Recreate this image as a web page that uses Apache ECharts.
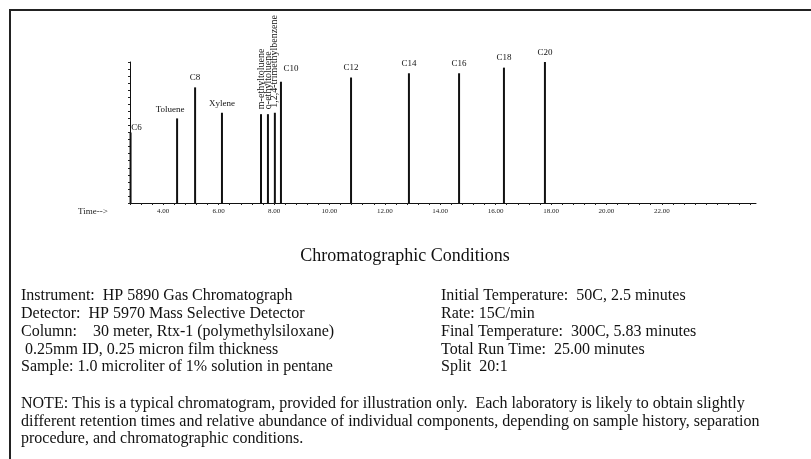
<!DOCTYPE html>
<html>
<head>
<meta charset="utf-8">
<script src="https://cdn.jsdelivr.net/npm/echarts@6/dist/echarts.min.js"></script>
<style>
html,body{margin:0;padding:0;background:#fff;}
#chart{width:811px;height:459px;}
</style>
</head>
<body>
<div id="chart"></div>
<script>
// Peak data (retention time in minutes, relative abundance)
const peakNames = ['C6','Toluene','C8','Xylene','m-ethyltoluene','o-ethyltoluene','1,2,4-trimethylbenzene','C10','C12','C14','C16','C18','C20'];
const peakTimes = [2.82, 4.50, 5.15, 6.12, 7.53, 7.78, 8.03, 8.25, 10.78, 12.87, 14.68, 16.30, 17.78];
const peakHeights = [50, 60, 82, 64, 63, 63, 64, 86, 89, 92, 92, 96, 100];
const tickLabels = [4, 6, 8, 10, 12, 14, 16, 18, 20, 22];
const heading = 'Chromatographic Conditions';
const leftLines = [
  'Instrument:  HP 5890 Gas Chromatograph',
  'Detector:  HP 5970 Mass Selective Detector',
  'Column:    30 meter, Rtx-1 (polymethylsiloxane)',
  ' 0.25mm ID, 0.25 micron film thickness',
  'Sample: 1.0 microliter of 1% solution in pentane'
];
const rightLines = [
  'Initial Temperature:  50C, 2.5 minutes',
  'Rate: 15C/min',
  'Final Temperature:  300C, 5.83 minutes',
  'Total Run Time:  25.00 minutes',
  'Split  20:1'
];
const noteLines = [
  'NOTE: This is a typical chromatogram, provided for illustration only.  Each laboratory is likely to obtain slightly',
  'different retention times and relative abundance of individual components, depending on sample history, separation',
  'procedure, and chromatographic conditions.'
];

const SERIF = "'Liberation Serif', 'DejaVu Serif', serif";
const X_MIN = 2.8, X_MAX = 25.4;
const minorTicks = [];
for (let i = 0; X_MIN + i * 0.4 <= X_MAX + 1e-9; i++) minorTicks.push(+(X_MIN + i * 0.4).toFixed(2));

const rotated = new Set(['m-ethyltoluene','o-ethyltoluene','1,2,4-trimethylbenzene']);
const labelOffsets = { 'C6': [6, 5], 'Toluene': [-7, 1], 'C10': [10, -4] };

const barData = peakNames.map((name, i) => {
  const item = { value: [peakTimes[i], peakHeights[i]], name: name };
  if (rotated.has(name)) {
    item.label = { rotate: 90, align: 'left', verticalAlign: 'middle', distance: 5, fontSize: 10 };
  } else if (labelOffsets[name]) {
    item.label = { offset: labelOffsets[name] };
  }
  return item;
});

const chart = echarts.init(document.getElementById('chart'), null, { renderer: 'canvas' });

const BODY_FONT = '16px ' + SERIF;
const graphics = [
  { type: 'line', shape: { x1: 9, y1: 10, x2: 811, y2: 10 }, style: { stroke: '#222', lineWidth: 2 } },
  { type: 'line', shape: { x1: 10, y1: 9, x2: 10, y2: 459 }, style: { stroke: '#222', lineWidth: 2 } },
  { type: 'text', x: 78, y: 212, style: { text: 'Time-->', fill: '#222', font: '9px ' + SERIF, textVerticalAlign: 'middle', verticalAlign: 'middle' } },
  { type: 'text', x: 405, y: 256, style: { text: heading, fill: '#111', font: '18px ' + SERIF, textAlign: 'center', align: 'center', textVerticalAlign: 'middle', verticalAlign: 'middle' } }
];
leftLines.forEach((t, i) => graphics.push({ type: 'text', x: 21, y: 296 + i * 17.8, style: { text: t, fill: '#111', font: BODY_FONT, textVerticalAlign: 'middle', verticalAlign: 'middle' } }));
rightLines.forEach((t, i) => graphics.push({ type: 'text', x: 441, y: 296 + i * 17.8, style: { text: t, fill: '#111', font: BODY_FONT, textVerticalAlign: 'middle', verticalAlign: 'middle' } }));
noteLines.forEach((t, i) => graphics.push({ type: 'text', x: 21, y: 404 + i * 17.5, style: { text: t, fill: '#111', font: BODY_FONT, textVerticalAlign: 'middle', verticalAlign: 'middle' } }));

chart.setOption({
  animation: false,
  backgroundColor: '#fff',
  grid: { left: 130, right: 55, top: 62, bottom: 256, containLabel: false },
  xAxis: {
    type: 'value', min: X_MIN, max: X_MAX,
    axisLine: { show: true, onZero: false, lineStyle: { color: '#111', width: 1 } },
    axisTick: { show: true, customValues: minorTicks, length: 2, lineStyle: { color: '#222' } },
    axisLabel: { show: true, customValues: tickLabels, formatter: v => v.toFixed(2), fontFamily: SERIF, fontSize: 7, color: '#222', margin: 5 },
    splitLine: { show: false }
  },
  yAxis: {
    type: 'value', min: 0, max: 100, interval: 5,
    axisLine: { show: true, lineStyle: { color: '#111', width: 1 } },
    axisTick: { show: true, length: 2, lineStyle: { color: '#222' } },
    axisLabel: { show: false },
    splitLine: { show: false }
  },
  series: [{
    type: 'bar',
    barWidth: 2,
    data: barData,
    itemStyle: { color: '#111' },
    label: {
      show: true, position: 'top', distance: 5,
      formatter: p => p.name,
      fontFamily: SERIF, fontSize: 9, color: '#111'
    }
  }],
  graphic: graphics
});
</script>
</body>
</html>
